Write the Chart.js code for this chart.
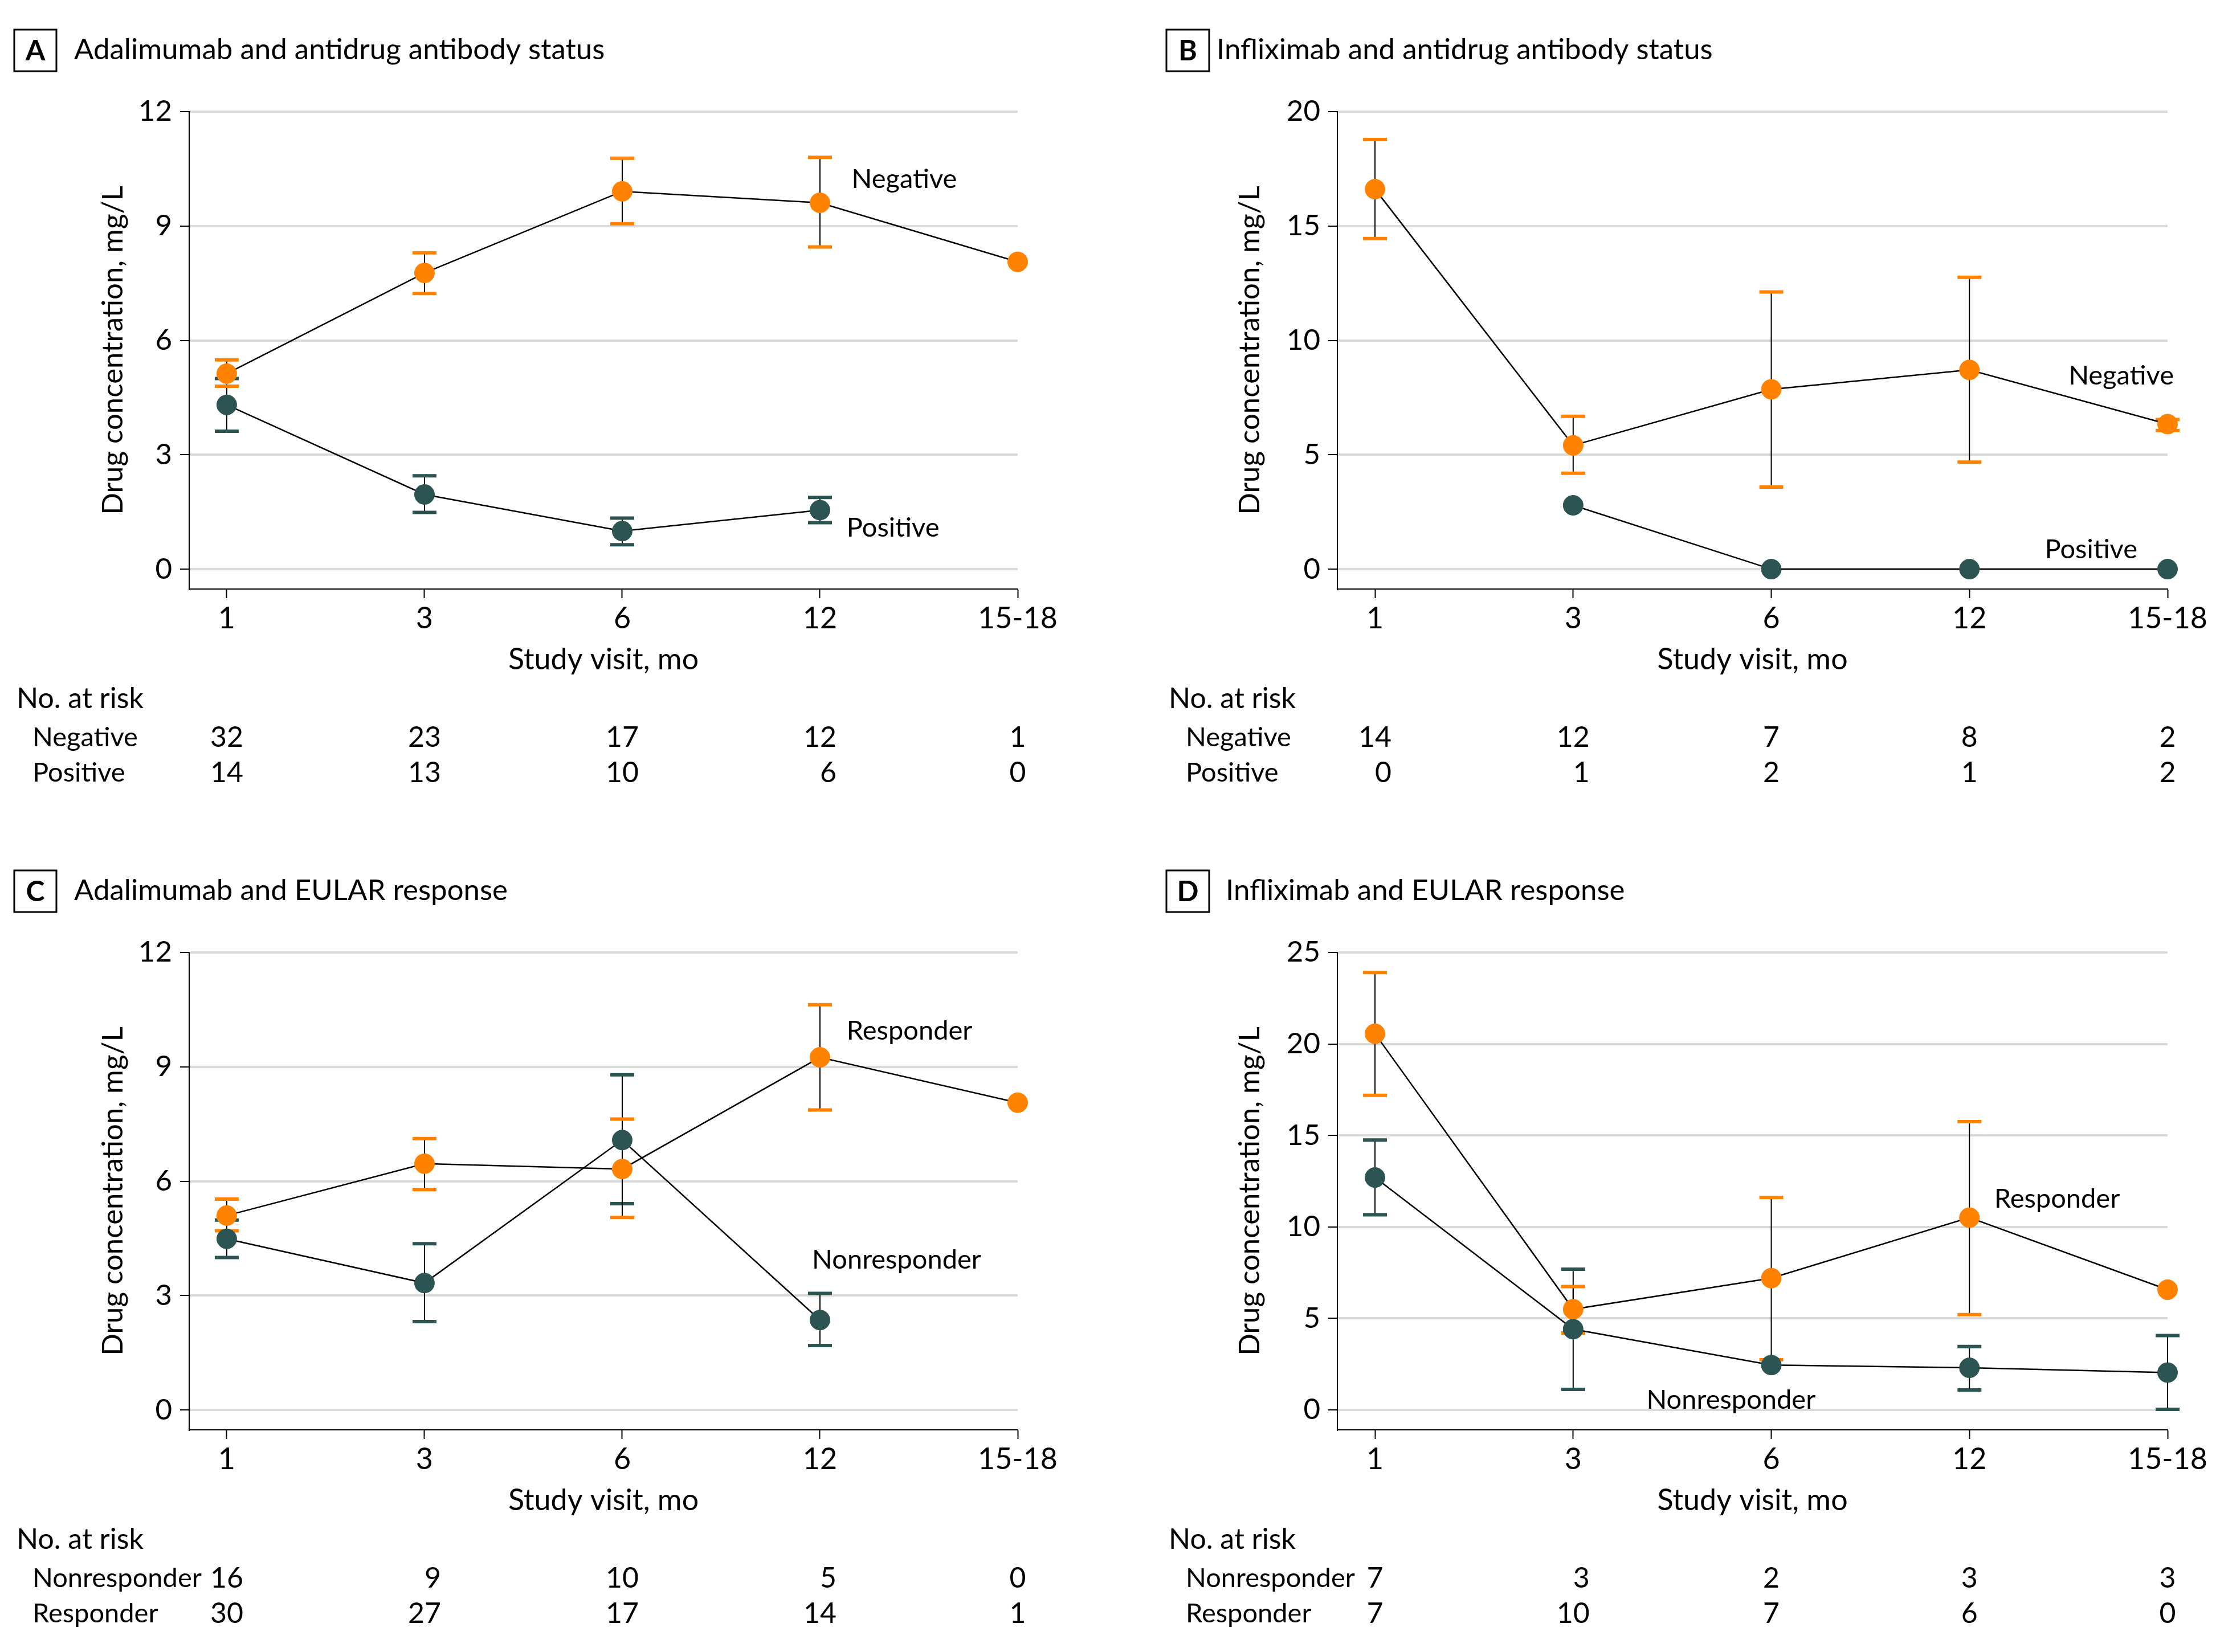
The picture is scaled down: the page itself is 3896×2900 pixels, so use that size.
<!DOCTYPE html>
<html>
<head>
<meta charset="utf-8">
<script src="https://cdn.jsdelivr.net/npm/chart.js@4.4.0/dist/chart.umd.min.js"></script>
<style>
  body { margin: 0; background: #fff; width: 3896px; height: 2900px; position: relative; overflow: hidden; }
  canvas { position: absolute; }
</style>
</head>
<body>
<canvas id="panelA" width="1948" height="1450" style="left:0;top:0"></canvas>
<canvas id="panelB" width="1948" height="1450" style="left:1948px;top:0"></canvas>
<canvas id="panelC" width="1948" height="1424" style="left:0;top:1476px"></canvas>
<canvas id="panelD" width="1948" height="1424" style="left:1948px;top:1476px"></canvas>
<script>
// Study visits (months)
const visits = ['1', '3', '6', '12', '15-18'];

// A: adalimumab by antidrug antibody status
const adaAbNeg   = [5.13, 7.77, 9.91, 9.61, 8.06];
const adaAbNegLo = [4.80, 7.23, 9.06, 8.45, null];
const adaAbNegHi = [5.49, 8.30, 10.78, 10.80, null];
const adaAbPos   = [4.31, 1.96, 1.00, 1.55, null];
const adaAbPosLo = [3.62, 1.49, 0.64, 1.22, null];
const adaAbPosHi = [5.00, 2.45, 1.34, 1.88, null];
const adaAbRiskNeg = [32, 23, 17, 12, 1];
const adaAbRiskPos = [14, 13, 10, 6, 0];

// B: infliximab by antidrug antibody status
const infAbNeg   = [16.61, 5.41, 7.86, 8.71, 6.34];
const infAbNegLo = [14.45, 4.19, 3.59, 4.68, 6.06];
const infAbNegHi = [18.78, 6.68, 12.12, 12.76, 6.54];
const infAbPos   = [null, 2.79, 0, 0, 0];
const infAbRiskNeg = [14, 12, 7, 8, 2];
const infAbRiskPos = [0, 1, 2, 1, 2];

// C: adalimumab by EULAR response
const adaEuResp   = [5.10, 6.46, 6.32, 9.25, 8.06];
const adaEuRespLo = [4.70, 5.78, 5.05, 7.87, null];
const adaEuRespHi = [5.53, 7.12, 7.63, 10.63, null];
const adaEuNon    = [4.49, 3.33, 7.08, 2.36, null];
const adaEuNonLo  = [4.00, 2.32, 5.41, 1.69, null];
const adaEuNonHi  = [4.98, 4.36, 8.79, 3.06, null];
const adaEuRiskNon  = [16, 9, 10, 5, 0];
const adaEuRiskResp = [30, 27, 17, 14, 1];

// D: infliximab by EULAR response
const infEuResp   = [20.56, 5.50, 7.20, 10.51, 6.57];
const infEuRespLo = [17.19, 4.20, 2.74, 5.21, null];
const infEuRespHi = [23.90, 6.74, 11.61, 15.75, null];
const infEuNon    = [12.70, 4.41, 2.45, 2.30, 2.04];
const infEuNonLo  = [10.66, 1.12, null, 1.09, 0.03];
const infEuNonHi  = [14.75, 7.69, null, 3.46, 4.06];
const infEuRiskNon  = [7, 3, 2, 3, 3];
const infEuRiskResp = [7, 10, 7, 6, 0];

// y tick labels
const yTicks12 = [0, 3, 6, 9, 12];
const yTicks20 = [0, 5, 10, 15, 20];
const yTicks25 = [0, 5, 10, 15, 20, 25];

const ORANGE = '#ff8200';
const TEAL = '#2b5452';
const FONT = 'Lato';

Chart.defaults.font.family = FONT;
Chart.defaults.color = '#000';

function series(values, lo, hi, color) {
    return {
        data: values.map((v, i) => ({ x: i, y: v })),
        lo: lo, hi: hi,
        borderColor: '#000',
        borderWidth: 2.5,
        pointRadius: 17.5,
        pointBackgroundColor: color,
        pointBorderColor: color,
        pointBorderWidth: 1,
        clip: false
    };
}

// error bars: thin black stem, thick coloured caps
const errorBars = {
    id: 'errorBars',
    beforeDatasetsDraw(chart) {
        const { ctx, scales: { x, y } } = chart;
        ctx.save();
        chart.data.datasets.forEach(ds => {
            if (!ds.lo) return;
            ds.lo.forEach((lo, i) => {
                const hi = ds.hi[i];
                if (lo == null || hi == null) return;
                const px = x.getPixelForValue(i);
                const y1 = y.getPixelForValue(lo);
                const y2 = y.getPixelForValue(hi);
                ctx.strokeStyle = '#000';
                ctx.lineWidth = 2;
                ctx.beginPath();
                ctx.moveTo(px, y1);
                ctx.lineTo(px, y2);
                ctx.stroke();
                ctx.strokeStyle = ds.pointBackgroundColor;
                ctx.lineWidth = 6;
                ctx.beginPath();
                ctx.moveTo(px - 21, y1); ctx.lineTo(px + 21, y1);
                ctx.moveTo(px - 21, y2); ctx.lineTo(px + 21, y2);
                ctx.stroke();
            });
        });
        ctx.restore();
    }
};

function makePanel(id, p) {
    const H = document.getElementById(id).height;
    const xBottom = 1034, xHeight = 155;

    // panel letter, title, curve labels and the number-at-risk table
    const decorations = {
        id: 'decorations',
        afterDraw(chart) {
            const { ctx, scales: { x, y } } = chart;
            ctx.save();
            ctx.textBaseline = 'middle';
            ctx.fillStyle = '#000';
            ctx.strokeStyle = '#000';
            ctx.lineWidth = 3;
            ctx.strokeRect(p.boxX, 52, p.boxW, 73);
            ctx.font = 'bold 50px ' + FONT;
            ctx.textAlign = 'center';
            ctx.fillText(p.letter, p.boxX + p.boxW / 2, 90);
            ctx.font = '51px ' + FONT;
            ctx.textAlign = 'left';
            ctx.fillText(p.title, p.titleX, 88);

            ctx.font = '47px ' + FONT;
            p.labels.forEach(l => {
                ctx.fillText(l.text, x.getPixelForValue(l.x), y.getPixelForValue(l.y));
            });

            ctx.font = '50px ' + FONT;
            ctx.fillText('No. at risk', p.riskX, 1227);
            const rowY = [1295, 1357];
            ctx.font = '47px ' + FONT;
            p.risk.forEach((row, r) => ctx.fillText(row.label, p.rowX, rowY[r]));
            ctx.font = '50px ' + FONT;
            ctx.textAlign = 'right';
            visits.forEach((v, i) => {
                const widths = p.risk.map(row => ctx.measureText(String(row.values[i])).width);
                const right = x.getPixelForValue(i) + Math.max(...widths) / 2;
                p.risk.forEach((row, r) => ctx.fillText(String(row.values[i]), right, rowY[r]));
            });
            ctx.restore();
        }
    };

    return new Chart(document.getElementById(id), {
        type: 'line',
        data: { datasets: p.datasets },
        options: {
            responsive: false,
            animation: false,
            events: [],
            layout: { padding: { left: 0, top: 196, right: 1948 - p.right, bottom: H - xBottom - xHeight } },
            plugins: { legend: { display: false }, tooltip: { enabled: false } },
            scales: {
                x: {
                    type: 'linear',
                    min: -0.19,
                    max: 4,
                    afterBuildTicks: s => { s.ticks = visits.map((v, i) => ({ value: i })); },
                    afterFit: s => { s.height = xHeight; },
                    grid: { drawOnChartArea: false, drawTicks: true, tickLength: 16, tickColor: '#000', tickWidth: 2 },
                    border: { display: true, color: '#000', width: 2 },
                    ticks: { callback: v => visits[v], font: { size: 52 }, color: '#000', padding: 5, maxRotation: 0, autoSkip: false },
                    title: { display: true, text: 'Study visit, mo', font: { size: 52 }, color: '#000', padding: 0 }
                },
                y: {
                    type: 'linear',
                    min: p.yMin,
                    max: p.yTicks[p.yTicks.length - 1],
                    afterBuildTicks: s => { s.ticks = p.yTicks.map(v => ({ value: v })); },
                    afterFit: s => { s.width = p.left; },
                    grid: { color: '#dadada', lineWidth: 4, tickLength: 16, tickColor: '#000', tickWidth: 2 },
                    border: { display: true, color: '#000', width: 2 },
                    ticks: { font: { size: 51 }, color: '#000', padding: 14 },
                    title: { display: true, text: 'Drug concentration, mg/L', font: { size: 51 }, color: '#000', padding: { top: p.yTitlePad, bottom: 0 } }
                }
            }
        },
        plugins: [errorBars, decorations]
    });
}

function build() {
    makePanel('panelA', {
        letter: 'A', title: 'Adalimumab and antidrug antibody status',
        boxX: 25, boxW: 74, titleX: 130, left: 332, right: 1786, yTitlePad: 168,
        yMin: -0.52, yTicks: yTicks12, riskX: 29, rowX: 57,
        datasets: [series(adaAbPos, adaAbPosLo, adaAbPosHi, TEAL), series(adaAbNeg, adaAbNegLo, adaAbNegHi, ORANGE)],
        labels: [{ text: 'Negative', x: 3.16, y: 10.22 }, { text: 'Positive', x: 3.135, y: 1.08 }],
        risk: [{ label: 'Negative', values: adaAbRiskNeg }, { label: 'Positive', values: adaAbRiskPos }]
    });
    makePanel('panelB', {
        letter: 'B', title: 'Infliximab and antidrug antibody status',
        boxX: 99, boxW: 75, titleX: 187, left: 399, right: 1856, yTitlePad: 215,
        yMin: -0.87, yTicks: yTicks20, riskX: 103, rowX: 133,
        datasets: [series(infAbPos, null, null, TEAL), series(infAbNeg, infAbNegLo, infAbNegHi, ORANGE)],
        labels: [{ text: 'Negative', x: 3.50, y: 8.46 }, { text: 'Positive', x: 3.38, y: 0.85 }],
        risk: [{ label: 'Negative', values: infAbRiskNeg }, { label: 'Positive', values: infAbRiskPos }]
    });
    makePanel('panelC', {
        letter: 'C', title: 'Adalimumab and EULAR response',
        boxX: 25, boxW: 74, titleX: 130, left: 332, right: 1786, yTitlePad: 168,
        yMin: -0.52, yTicks: yTicks12, riskX: 29, rowX: 57,
        datasets: [series(adaEuNon, adaEuNonLo, adaEuNonHi, TEAL), series(adaEuResp, adaEuRespLo, adaEuRespHi, ORANGE)],
        labels: [{ text: 'Responder', x: 3.135, y: 9.94 }, { text: 'Nonresponder', x: 2.96, y: 3.94 }],
        risk: [{ label: 'Nonresponder', values: adaEuRiskNon }, { label: 'Responder', values: adaEuRiskResp }]
    });
    makePanel('panelD', {
        letter: 'D', title: 'Infliximab and EULAR response',
        boxX: 99, boxW: 75, titleX: 203, left: 399, right: 1856, yTitlePad: 215,
        yMin: -1.09, yTicks: yTicks25, riskX: 103, rowX: 133,
        datasets: [series(infEuNon, infEuNonLo, infEuNonHi, TEAL), series(infEuResp, infEuRespLo, infEuRespHi, ORANGE)],
        labels: [{ text: 'Responder', x: 3.125, y: 11.52 }, { text: 'Nonresponder', x: 1.37, y: 0.52 }],
        risk: [{ label: 'Nonresponder', values: infEuRiskNon }, { label: 'Responder', values: infEuRiskResp }]
    });
}

document.fonts.load('50px ' + FONT).then(build, build);
</script>
</body>
</html>
